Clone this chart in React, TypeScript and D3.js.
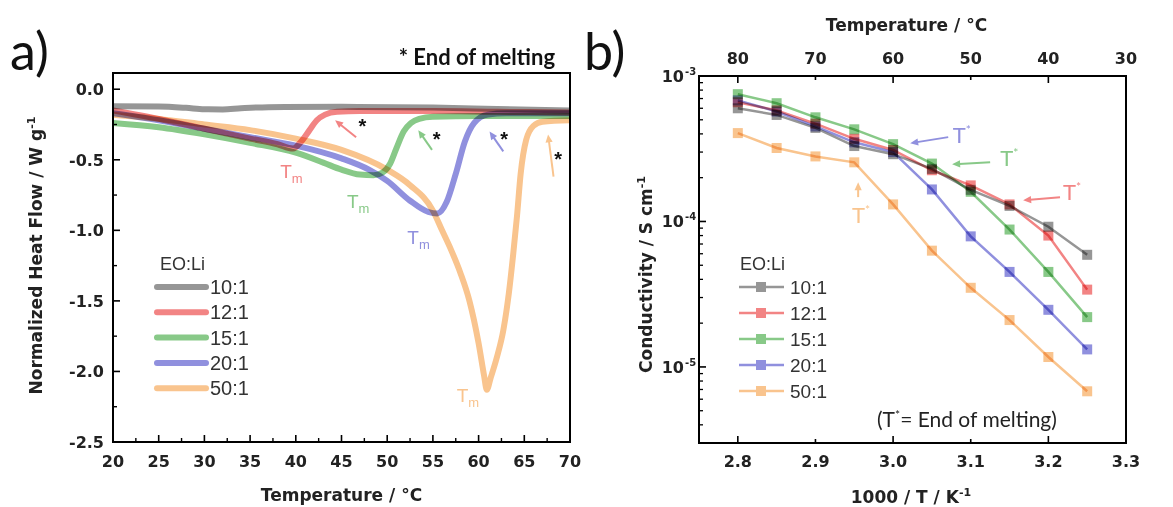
import React from "react";
import * as d3 from "d3";

// ---------- Panel a: DSC data ----------
const seriesNames = ["10:1", "12:1", "15:1", "20:1", "50:1"];
const colors = ["#969696", "#f28484", "#88c988", "#9090de", "#f9c48e"];

const dscT10 = [20, 25, 28, 30, 32, 34, 37, 45, 55, 62, 70];
const dscV10 = [-0.12, -0.122, -0.132, -0.142, -0.143, -0.135, -0.127, -0.125, -0.13, -0.14, -0.15];
const dscT12 = [20, 25, 30, 35, 38, 39.7, 40.6, 41.5, 42.3, 43.2, 44.5, 47, 55, 62, 70];
const dscV12 = [-0.15, -0.21, -0.28, -0.35, -0.39, -0.42, -0.37, -0.29, -0.22, -0.18, -0.16, -0.155, -0.155, -0.16, -0.165];
const dscT15 = [20, 25, 30, 35, 40, 43, 45, 47, 48.5, 49.5, 50.3, 51, 51.8, 52.6, 53.5, 55, 60, 70];
const dscV15 = [-0.24, -0.27, -0.32, -0.38, -0.45, -0.52, -0.57, -0.605, -0.61, -0.59, -0.53, -0.42, -0.3, -0.24, -0.21, -0.195, -0.19, -0.19];
const dscT20 = [20, 25, 30, 35, 40, 45, 48, 50, 52.5, 54.5, 55.5, 56.5, 57.5, 58.5, 59.5, 61, 63, 70];
const dscV20 = [-0.17, -0.22, -0.28, -0.34, -0.4, -0.49, -0.57, -0.65, -0.79, -0.87, -0.88, -0.8, -0.6, -0.37, -0.24, -0.18, -0.17, -0.17];
const dscT50 = [20, 25, 30, 35, 40, 45, 50, 52.5, 55, 56, 57, 58, 59, 60, 60.6, 60.9, 61.3, 62, 62.7, 63.3, 63.8, 64.2, 64.6, 65.2, 66, 67, 70];
const dscV50 = [-0.18, -0.21, -0.25, -0.29, -0.35, -0.43, -0.57, -0.68, -0.86, -1.0, -1.14, -1.3, -1.5, -1.8, -2.03, -2.13, -2.05, -1.9, -1.71, -1.45, -1.16, -0.9, -0.6, -0.36, -0.26, -0.23, -0.22];
const dscTs = [dscT10, dscT12, dscT15, dscT20, dscT50];
const dscVs = [dscV10, dscV12, dscV15, dscV20, dscV50];

const dscXTicks = [20, 25, 30, 35, 40, 45, 50, 55, 60, 65, 70];
const dscYTicks = [0, -0.5, -1.0, -1.5, -2.0, -2.5];

const tmLabels = [
  { s: 1, t: 38.3, v: -0.63 },
  { s: 2, t: 45.6, v: -0.84 },
  { s: 3, t: 52.2, v: -1.1 },
  { s: 4, t: 57.6, v: -2.22 },
];
const meltArrows = [
  { s: 1, t0: 46.6, v0: -0.34, t1: 44.3, v1: -0.22, st: 47.3, sv: -0.24 },
  { s: 2, t0: 54.9, v0: -0.43, t1: 53.4, v1: -0.29, st: 55.4, sv: -0.33 },
  { s: 3, t0: 62.7, v0: -0.44, t1: 61.2, v1: -0.3, st: 62.8, sv: -0.33 },
  { s: 4, t0: 68.2, v0: -0.62, t1: 67.6, v1: -0.32, st: 68.7, sv: -0.47 },
];

// ---------- Panel b: conductivity data ----------
const invT = [2.8, 2.85, 2.9, 2.95, 3.0, 3.05, 3.1, 3.15, 3.2, 3.25];
const cond10 = [6.0e-4, 5.4e-4, 4.4e-4, 3.3e-4, 2.9e-4, 2.3e-4, 1.65e-4, 1.28e-4, 9.2e-5, 5.9e-5];
const cond12 = [6.6e-4, 5.8e-4, 4.7e-4, 3.7e-4, 3.1e-4, 2.25e-4, 1.77e-4, 1.31e-4, 8.0e-5, 3.4e-5];
const cond15 = [7.5e-4, 6.5e-4, 5.2e-4, 4.3e-4, 3.4e-4, 2.5e-4, 1.6e-4, 8.8e-5, 4.5e-5, 2.2e-5];
const cond20 = [6.8e-4, 5.7e-4, 4.5e-4, 3.5e-4, 3.0e-4, 1.66e-4, 7.9e-5, 4.5e-5, 2.47e-5, 1.32e-5];
const cond50 = [4.05e-4, 3.2e-4, 2.8e-4, 2.55e-4, 1.31e-4, 6.3e-5, 3.5e-5, 2.1e-5, 1.17e-5, 6.8e-6];
const conds = [cond10, cond12, cond15, cond20, cond50];

const invTTicks = [2.8, 2.9, 3.0, 3.1, 3.2, 3.3];
const tempTopTicks = [80, 70, 60, 50, 40, 30];
const condDecades = [-3, -4, -5];

const tStarArrows = [
  { s: 3, x0: 3.071, y0: 3.8e-4, x1: 3.022, y1: 3.45e-4, lx: 3.077, ly: 3.45e-4 },
  { s: 2, x0: 3.125, y0: 2.55e-4, x1: 3.076, y1: 2.47e-4, lx: 3.138, ly: 2.4e-4 },
  { s: 1, x0: 3.215, y0: 1.47e-4, x1: 3.1675, y1: 1.4e-4, lx: 3.219, ly: 1.4e-4 },
  { s: 4, x0: 2.955, y0: 1.47e-4, x1: 2.955, y1: 1.86e-4, lx: 2.947, ly: 9.7e-5 },
];

const A = { left: 113, right: 570, top: 73, bottom: 442 };
const B = { left: 699, right: 1126, top: 76, bottom: 443 };

const xA = d3.scaleLinear().domain([20, 70]).range([A.left, A.right]);
const yA = d3.scaleLinear().domain([-2.5, 0.115]).range([A.bottom, A.top]);
const xB = d3.scaleLinear().domain([2.75, 3.3]).range([B.left, B.right]);
const yB = d3.scaleLog().domain([3e-6, 1e-3]).range([B.bottom, B.top]);
const xTop = d3.scaleLinear().domain([80, 30]).range([xB(2.8), xB(3.3)]);

const AX_FONT = "'DejaVu Sans', sans-serif";
const LEG_FONT = "'Liberation Sans', Arial, sans-serif";
const CAL_FONT = "Lato, 'Open Sans', sans-serif";

function Arrow({ x0, y0, x1, y1, color, w = 2, head = 9 }: any) {
  const dx = x1 - x0, dy = y1 - y0;
  const len = Math.hypot(dx, dy);
  const ux = dx / len, uy = dy / len;
  const bx = x1 - ux * head, by = y1 - uy * head;
  const px = -uy * head * 0.45, py = ux * head * 0.45;
  return (
    <g>
      <line x1={x0} y1={y0} x2={bx + ux * 1} y2={by + uy * 1} stroke={color} strokeWidth={w} />
      <polygon points={`${x1},${y1} ${bx + px},${by + py} ${bx - px},${by - py}`} fill={color} />
    </g>
  );
}

function PanelA() {
  const line = d3.line<[number, number]>().x((d) => xA(d[0])).y((d) => yA(d[1])).curve(d3.curveMonotoneX);
  const minorX = d3.range(22.5, 70, 5);
  const minorY = d3.range(-2.25, 0, 0.5);
  return (
    <g>
      <defs>
        <clipPath id="clipA">
          <rect x={A.left} y={A.top} width={A.right - A.left} height={A.bottom - A.top} />
        </clipPath>
      </defs>
      <g clipPath="url(#clipA)">
        {dscTs.map((ts, i) => (
          <path
            key={i}
            d={line(ts.map((t, j) => [t, dscVs[i][j]]) as any) || ""}
            fill="none"
            stroke={colors[i]}
            strokeWidth={6}
            strokeLinejoin="round"
            style={{ mixBlendMode: "multiply" }}
          />
        ))}
      </g>
      <rect x={A.left} y={A.top} width={A.right - A.left} height={A.bottom - A.top} fill="none" stroke="#000" strokeWidth={2} />
      {dscXTicks.map((t) => (
        <g key={"xt" + t}>
          <line x1={xA(t)} x2={xA(t)} y1={A.bottom} y2={A.bottom - 7} stroke="#000" strokeWidth={1.6} />
          <text x={xA(t)} y={467} textAnchor="middle" fontFamily={AX_FONT} fontWeight="bold" fontSize={16} fill="#222">
            {t}
          </text>
        </g>
      ))}
      {minorX.map((t) => (
        <line key={"xm" + t} x1={xA(t)} x2={xA(t)} y1={A.bottom} y2={A.bottom - 4} stroke="#000" strokeWidth={1.4} />
      ))}
      {dscYTicks.map((v) => (
        <g key={"yt" + v}>
          <line x1={A.left} x2={A.left + 7} y1={yA(v)} y2={yA(v)} stroke="#000" strokeWidth={1.6} />
          <text x={104} y={yA(v) + 6} textAnchor="end" fontFamily={AX_FONT} fontWeight="bold" fontSize={16} fill="#222">
            {v.toFixed(1)}
          </text>
        </g>
      ))}
      {minorY.map((v) => (
        <line key={"ym" + v} x1={A.left} x2={A.left + 4} y1={yA(v)} y2={yA(v)} stroke="#000" strokeWidth={1.4} />
      ))}
      <text x={(A.left + A.right) / 2} y={501} textAnchor="middle" fontFamily={AX_FONT} fontWeight="bold" fontSize={17} fill="#222">
        Temperature / °C
      </text>
      <text
        transform={`translate(42, ${(A.top + A.bottom) / 2 - 2}) rotate(-90)`}
        textAnchor="middle"
        fontFamily={AX_FONT}
        fontWeight="bold"
        fontSize={17}
        fill="#222"
      >
        Normalized Heat Flow / W g<tspan dy={-7} fontSize={11}>-1</tspan>
      </text>
      <text x={160} y={270} fontFamily={LEG_FONT} fontSize={18} fill="#333">
        EO:Li
      </text>
      {seriesNames.map((n, i) => (
        <g key={"lg" + n}>
          <line x1={157} x2={206} y1={287 + i * 25.3} y2={287 + i * 25.3} stroke={colors[i]} strokeWidth={6} strokeLinecap="round" />
          <text x={210} y={287 + i * 25.3 + 7} fontFamily={LEG_FONT} fontSize={20} fill="#333">
            {n}
          </text>
        </g>
      ))}
      {tmLabels.map((l) => (
        <text key={"tm" + l.s} x={xA(l.t)} y={yA(l.v)} fontFamily={LEG_FONT} fontSize={19} fill={colors[l.s]}>
          T<tspan dy={5} fontSize={13}>m</tspan>
        </text>
      ))}
      {meltArrows.map((a) => (
        <g key={"ma" + a.s}>
          <Arrow x0={xA(a.t0)} y0={yA(a.v0)} x1={xA(a.t1)} y1={yA(a.v1)} color={colors[a.s]} w={2} head={8} />
          <text x={xA(a.st)} y={yA(a.sv) + 10} textAnchor="middle" fontFamily={LEG_FONT} fontWeight="bold" fontSize={20} fill="#111">
            *
          </text>
        </g>
      ))}
      <text x={555} y={65} textAnchor="end" fontFamily={CAL_FONT} fontWeight="bold" fontSize={22} fill="#111">
        * End of melting
      </text>
      <text x={10} y={70} fontFamily={CAL_FONT} fontSize={52} fill="#111">
        a)
      </text>
    </g>
  );
}

function PanelB() {
  const line = d3.line<[number, number]>().x((d) => xB(d[0])).y((d) => yB(d[1]));
  const minorLog: number[] = [];
  [-6, -5, -4].forEach((e) => {
    for (let k = 2; k <= 9; k++) {
      const v = k * Math.pow(10, e);
      if (v >= 3e-6 && v < 1e-3) minorLog.push(v);
    }
  });
  return (
    <g>
      {conds.map((c, i) => (
        <path
          key={"l" + i}
          d={line(invT.map((x, j) => [x, c[j]]) as any) || ""}
          fill="none"
          stroke={colors[i]}
          strokeWidth={2.5}
          style={{ mixBlendMode: "multiply" }}
        />
      ))}
      {conds.map((c, i) =>
        invT.map((x, j) => (
          <rect
            key={"m" + i + "-" + j}
            x={xB(x) - 5}
            y={yB(c[j]) - 5}
            width={10}
            height={10}
            fill={colors[i]}
            style={{ mixBlendMode: "multiply" }}
          />
        ))
      )}
      <rect x={B.left} y={B.top} width={B.right - B.left} height={B.bottom - B.top} fill="none" stroke="#000" strokeWidth={2} />
      {invTTicks.map((t, i) => (
        <g key={"bt" + t}>
          <line x1={xB(t)} x2={xB(t)} y1={B.bottom} y2={B.bottom - (i % 2 === 0 ? 7 : 4)} stroke="#000" strokeWidth={1.6} />
          <text x={xB(t)} y={467} textAnchor="middle" fontFamily={AX_FONT} fontWeight="bold" fontSize={16} fill="#222">
            {t.toFixed(1)}
          </text>
        </g>
      ))}
      {tempTopTicks.map((t, i) => (
        <g key={"tt" + t}>
          <line x1={xTop(t)} x2={xTop(t)} y1={B.top} y2={B.top + (i % 2 === 0 ? 7 : 4)} stroke="#000" strokeWidth={1.6} />
          <text x={xTop(t)} y={64} textAnchor="middle" fontFamily={AX_FONT} fontWeight="bold" fontSize={16} fill="#222">
            {t}
          </text>
        </g>
      ))}
      {condDecades.map((e) => (
        <g key={"ld" + e}>
          <line x1={B.left} x2={B.left + 7} y1={yB(Math.pow(10, e))} y2={yB(Math.pow(10, e))} stroke="#000" strokeWidth={1.6} />
          <text x={684} y={yB(Math.pow(10, e)) + 6} textAnchor="end" fontFamily={AX_FONT} fontWeight="bold" fontSize={16} fill="#222">
            10
          </text>
          <text x={685} y={yB(Math.pow(10, e)) - 1} fontFamily={AX_FONT} fontWeight="bold" fontSize={10} fill="#222">
            {e}
          </text>
        </g>
      ))}
      {minorLog.map((v) => (
        <line key={"lm" + v} x1={B.left} x2={B.left + 4} y1={yB(v)} y2={yB(v)} stroke="#000" strokeWidth={1.3} />
      ))}
      <text x={xB(3.023)} y={503} textAnchor="middle" fontFamily={AX_FONT} fontWeight="bold" fontSize={17} fill="#222">
        1000 / T / K<tspan dy={-7} fontSize={11}>-1</tspan>
      </text>
      <text x={(B.left + B.right) / 2 - 6} y={31} textAnchor="middle" fontFamily={AX_FONT} fontWeight="bold" fontSize={17} fill="#222">
        Temperature / °C
      </text>
      <text
        transform={`translate(652, ${(B.top + B.bottom) / 2 + 15}) rotate(-90)`}
        textAnchor="middle"
        fontFamily={AX_FONT}
        fontWeight="bold"
        fontSize={17}
        fill="#222"
      >
        Conductivity / S cm<tspan dy={-7} fontSize={11}>-1</tspan>
      </text>
      <text x={740} y={270} fontFamily={LEG_FONT} fontSize={18} fill="#333">
        EO:Li
      </text>
      {seriesNames.map((n, i) => (
        <g key={"lgb" + n}>
          <line x1={739} x2={784} y1={287 + i * 26} y2={287 + i * 26} stroke={colors[i]} strokeWidth={2.5} />
          <rect x={756} y={282 + i * 26} width={10} height={10} fill={colors[i]} />
          <text x={790} y={287 + i * 26 + 7} fontFamily={LEG_FONT} fontSize={19} fill="#333">
            {n}
          </text>
        </g>
      ))}
      {tStarArrows.map((a) => (
        <g key={"ts" + a.s}>
          <Arrow x0={xB(a.x0)} y0={yB(a.y0)} x1={xB(a.x1)} y1={yB(a.y1)} color={colors[a.s]} w={2} head={8} />
          <text x={xB(a.lx)} y={yB(a.ly)} fontFamily={CAL_FONT} fontSize={22} fill={colors[a.s]}>
            T<tspan dy={-9} fontSize={12}>*</tspan>
          </text>
        </g>
      ))}
      <text x={877} y={427} fontFamily={CAL_FONT} fontSize={21} fill="#222">
        (T<tspan dy={-8} fontSize={12}>*</tspan>
        <tspan dy={8}>= End of melting)</tspan>
      </text>
      <text x={584} y={70} fontFamily={CAL_FONT} fontSize={52} fill="#111">
        b)
      </text>
    </g>
  );
}

export default function App() {
  return (
    <svg
      width={1173}
      height={507}
      viewBox="0 0 1173 507"
      style={{ position: "absolute", left: 0, top: 0, background: "#fff" }}
    >
      <rect width={1173} height={507} fill="#fff" />
      <PanelA />
      <PanelB />
    </svg>
  );
}
